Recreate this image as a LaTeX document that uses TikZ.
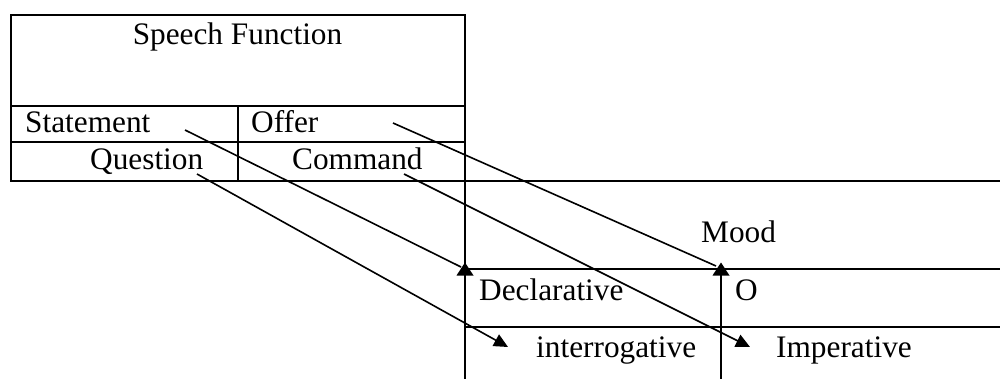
\documentclass[tikz,border=0pt]{standalone}
\usepackage{fontspec}
\setmainfont{Liberation Serif}
\usetikzlibrary{arrows.meta}
\begin{document}
\begin{tikzpicture}[x=1pt,y=-1pt,
  rule/.style={line width=2pt},
  txt/.style={inner sep=0pt, font=\fontsize{31.3}{36}\selectfont},
  link/.style={line width=1.6pt},
  linkarrow/.style={link, -{Triangle[length=14pt,width=13pt]}},
  uptip/.style={fill=black}]
\useasboundingbox (0,0) rectangle (1000,379);

% Speech function table
\draw[rule] (11,15.5) rectangle (465,181);
\draw[rule] (11,106) -- (465,106);
\draw[rule] (11,142) -- (465,142);
\draw[rule] (238,106) -- (238,181);

% Mood table
\draw[rule] (465,181.5) -- (1000,181.5);
\draw[rule] (465,181) -- (465,379);
\draw[rule] (465,269) -- (1000,269);
\draw[rule] (465,327) -- (1000,327);
\draw[rule] (721,269) -- (721,379);

% Labels
\node[txt, anchor=base] (sf) at (237.5,45) {Speech Function};
\node[txt, anchor=base west] (st) at (25,133) {Statement};
\node[txt, anchor=base west] (of) at (251,133) {Offer};
\node[txt, anchor=base west] (qu) at (90,170) {Question};
\node[txt, anchor=base west] (co) at (292,170) {Command};
\node[txt, anchor=base west] (mood) at (701,243) {Mood};
\node[txt, anchor=base west] (decl) at (479,300) {Declarative};
\node[txt, anchor=base west] (o) at (735,300) {O};
\node[txt, anchor=base west] (inter) at (536,357) {interrogative};
\node[txt, anchor=base west] (imp) at (776,357) {Imperative};

% Connector end points
\coordinate (stOut) at (185,130);
\coordinate (declIn) at (461,267);
\coordinate (declTip) at (465,262.5);
\coordinate (ofOut) at (393,123);
\coordinate (oIn) at (716,266);
\coordinate (oTip) at (721,262.5);
\coordinate (quOut) at (197,174);
\coordinate (interIn) at (508,347);
\coordinate (coOut) at (404,174);
\coordinate (impIn) at (750,347);

% Connectors
\draw[link] (stOut) -- (declIn);
\fill[uptip] (declTip) -- ++(-8.5,13) -- ++(17,0) -- cycle;
\draw[link] (ofOut) -- (oIn);
\fill[uptip] (oTip) -- ++(-8.5,13) -- ++(17,0) -- cycle;
\draw[linkarrow] (quOut) -- (interIn);
\draw[linkarrow] (coOut) -- (impIn);
\end{tikzpicture}
\end{document}
